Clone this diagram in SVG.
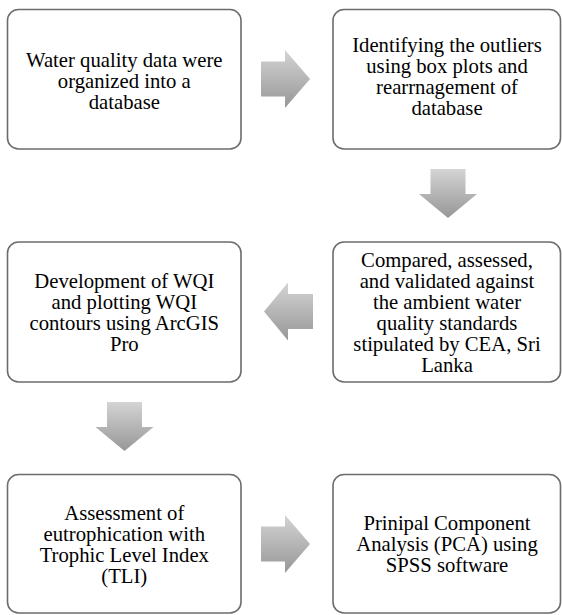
<svg xmlns="http://www.w3.org/2000/svg" width="562" height="615" viewBox="0 0 562 615">
<defs>
<linearGradient id="g" x1="0" y1="0" x2="0" y2="1">
<stop offset="0" stop-color="#d4d4d4"/>
<stop offset="1" stop-color="#979797"/>
</linearGradient>
<style>
.box{fill:#fff;stroke:#6c6c6c;stroke-width:1.6}
.t{font-family:"Liberation Serif","Times New Roman",serif;font-size:20.7px;fill:#000;text-anchor:middle}
.arr{fill:url(#g);stroke:none}
</style>
</defs>
<rect width="562" height="615" fill="#fff"/>
<g id="connectors">
<polygon class="arr" points="261,61.5 285,61.5 285,50 310,79 285,108 285,96.5 261,96.5"/>
<polygon class="arr" points="430.5,169 465.5,169 465.5,194 477,194 448,218 419,194 430.5,194"/>
<polygon class="arr" points="313,294 288,294 288,282.5 264,311.5 288,340.5 288,329 313,329"/>
<polygon class="arr" points="107,402 142,402 142,427 153.5,427 124.5,451 95.5,427 107,427"/>
<polygon class="arr" points="261,526.5 285,526.5 285,515 310,544 285,573 285,561.5 261,561.5"/>
</g>
<g id="n1">
<rect class="box" x="7.5" y="9.5" width="233.5" height="139.5" rx="11"/>
<text class="t"><tspan x="124.3" y="67">Water quality data were</tspan><tspan x="124.3" y="88">organized into a</tspan><tspan x="124.3" y="109">database</tspan></text>
</g>
<g id="n2">
<rect class="box" x="333" y="9.5" width="227.5" height="139.5" rx="11"/>
<text class="t"><tspan x="447" y="52">Identifying the outliers</tspan><tspan x="447" y="73">using box plots and</tspan><tspan x="447" y="94">rearrnagement of</tspan><tspan x="447" y="115">database</tspan></text>
</g>
<g id="n3">
<rect class="box" x="333" y="242" width="227.5" height="140" rx="11"/>
<text class="t"><tspan x="447" y="266.5">Compared, assessed,</tspan><tspan x="447" y="287.5">and validated against</tspan><tspan x="447" y="308.5">the ambient water</tspan><tspan x="447" y="329.5">quality standards</tspan><tspan x="447" y="350.5">stipulated by CEA, Sri</tspan><tspan x="447" y="371.5">Lanka</tspan></text>
</g>
<g id="n4">
<rect class="box" x="7.5" y="242" width="233.5" height="140" rx="11"/>
<text class="t"><tspan x="124.3" y="287.5">Development of WQI</tspan><tspan x="124.3" y="308.5">and plotting WQI</tspan><tspan x="124.3" y="329.5">contours using ArcGIS</tspan><tspan x="124.3" y="350.5">Pro</tspan></text>
</g>
<g id="n5">
<rect class="box" x="7.5" y="474.5" width="233.5" height="138.5" rx="11"/>
<text class="t"><tspan x="124.3" y="519.5">Assessment of</tspan><tspan x="124.3" y="540.5">eutrophication with</tspan><tspan x="124.3" y="561.5">Trophic Level Index</tspan><tspan x="124.3" y="582.5">(TLI)</tspan></text>
</g>
<g id="n6">
<rect class="box" x="333" y="474.5" width="227.5" height="138.5" rx="11"/>
<text class="t"><tspan x="447" y="530">Prinipal Component</tspan><tspan x="447" y="551">Analysis (PCA) using</tspan><tspan x="447" y="572">SPSS software</tspan></text>
</g>
</svg>
